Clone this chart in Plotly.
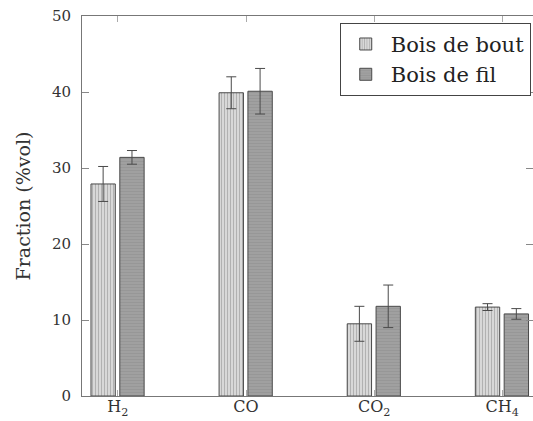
import plotly.graph_objects as go

# Gas composition by species, two wood orientations
gases = ["H<sub>2</sub>", "CO", "CO<sub>2</sub>", "CH<sub>4</sub>"]
bout_vals = [27.9, 39.9, 9.5, 11.7]
bout_err = [2.3, 2.1, 2.3, 0.45]
fil_vals = [31.4, 40.1, 11.8, 10.8]
fil_err = [0.9, 3.0, 2.8, 0.7]
y_ticks = [0, 10, 20, 30, 40, 50]

xpos = list(range(len(gases)))
font_family = "DejaVu Serif"
edge = "#4a4a4a"

fig = go.Figure()
fig.add_trace(go.Bar(
    x=xpos, y=bout_vals, name="Bois de bout",
    width=0.19, offset=-0.21,
    marker=dict(color="#d2d2d2", line=dict(color=edge, width=1),
                pattern=dict(shape="|", fgcolor="#8a8a8a", bgcolor="#d8d8d8",
                             size=3, solidity=0.35)),
    error_y=dict(type="data", array=bout_err, color=edge, thickness=1, width=5),
))
fig.add_trace(go.Bar(
    x=xpos, y=fil_vals, name="Bois de fil",
    width=0.19, offset=0.015,
    marker=dict(color="#9a9a9a", line=dict(color=edge, width=1),
                pattern=dict(shape="-", fgcolor="#8c8c8c", bgcolor="#a0a0a0",
                             size=3, solidity=0.3)),
    error_y=dict(type="data", array=fil_err, color=edge, thickness=1, width=5),
))

fig.update_layout(
    width=533, height=421,
    margin=dict(l=82, r=0, t=16, b=25, autoexpand=False),
    paper_bgcolor="white", plot_bgcolor="white",
    font=dict(family=font_family, size=15, color="#333333"),
    barmode="overlay",
    showlegend=True,
    legend=dict(x=0.995, y=0.982, xanchor="right", yanchor="top",
                bgcolor="white", bordercolor="#444444", borderwidth=1,
                font=dict(family=font_family, size=21, color="#222222"),
                itemwidth=40, tracegroupgap=4),
    xaxis=dict(range=[-0.28, 3.24], tickmode="array", tickvals=xpos, ticktext=gases,
               showgrid=False, zeroline=False, showline=True, linecolor="#777777",
               linewidth=1, mirror="ticks", ticks="inside", ticklen=6,
               tickcolor="#aaaaaa", automargin=False, ticklabelstandoff=-4,
               tickfont=dict(family=font_family, size=16, color="#333333")),
    yaxis=dict(range=[0, 50], tickmode="array", tickvals=y_ticks,
               showgrid=False, zeroline=False, showline=True, linecolor="#777777",
               linewidth=1, mirror="ticks", ticks="inside", ticklen=7,
               tickcolor="#888888", automargin=False, ticklabelstandoff=7,
               tickfont=dict(family=font_family, size=15, color="#333333"),
               title=dict(text="Fraction (%vol)",
                          font=dict(family=font_family, size=19, color="#333333"),
                          standoff=16)),
)

fig.write_html("out.html")
